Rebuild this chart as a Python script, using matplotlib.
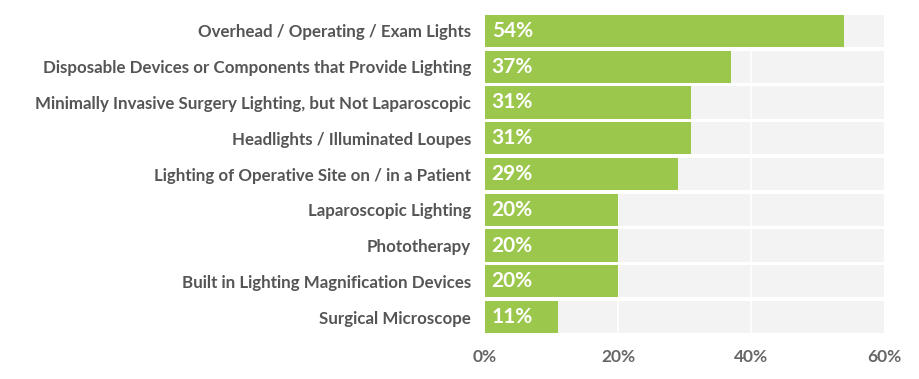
import matplotlib
matplotlib.use('Agg')
import matplotlib.pyplot as plt
import numpy as np

categories = [
    'Overhead / Operating / Exam Lights',
    'Disposable Devices or Components that Provide Lighting',
    'Minimally Invasive Surgery Lighting, but Not Laparoscopic',
    'Headlights / Illuminated Loupes',
    'Lighting of Operative Site on / in a Patient',
    'Laparoscopic Lighting',
    'Phototherapy',
    'Built in Lighting Magnification Devices',
    'Surgical Microscope',
]
values = [54, 37, 31, 31, 29, 20, 20, 20, 11]
xticks = [0, 20, 40, 60]

plt.rcParams['font.family'] = ['Lato', 'DejaVu Sans']

fig = plt.figure(figsize=(9.19, 3.79), dpi=100)
ax = fig.add_axes([0.5277, 0.116, 0.962 - 0.5277, 0.9657 - 0.116])

y = np.arange(len(categories))
h = 0.9
# grey background bands
ax.barh(y, [xticks[-1]] * len(y), height=h, color='#f3f3f3', zorder=1)
for t in xticks[1:-1]:
    ax.axvline(t, color='white', linewidth=1.2, zorder=2)
ax.barh(y, values, height=h, color='#9bc74c', zorder=3)

for yi, v in zip(y, values):
    ax.text(1.0, yi, f'{v}%', color='white', fontsize=15, fontweight='bold',
            va='center', ha='left', zorder=4)

ax.set_xlim(0, 60)
ax.set_ylim(len(y) - 0.5, -0.5)
ax.set_yticks(y)
ax.set_yticklabels(categories, fontsize=12.2, fontweight='bold', color='#555555')
ax.set_xticks(xticks)
ax.set_xticklabels([f'{t}%' for t in xticks], fontsize=12.5, fontweight='bold', color='#666666')
ax.tick_params(length=0)
ax.tick_params(axis='y', pad=10)
ax.tick_params(axis='x', pad=10)
for s in ax.spines.values():
    s.set_visible(False)

fig.savefig('out.png', dpi=100)
